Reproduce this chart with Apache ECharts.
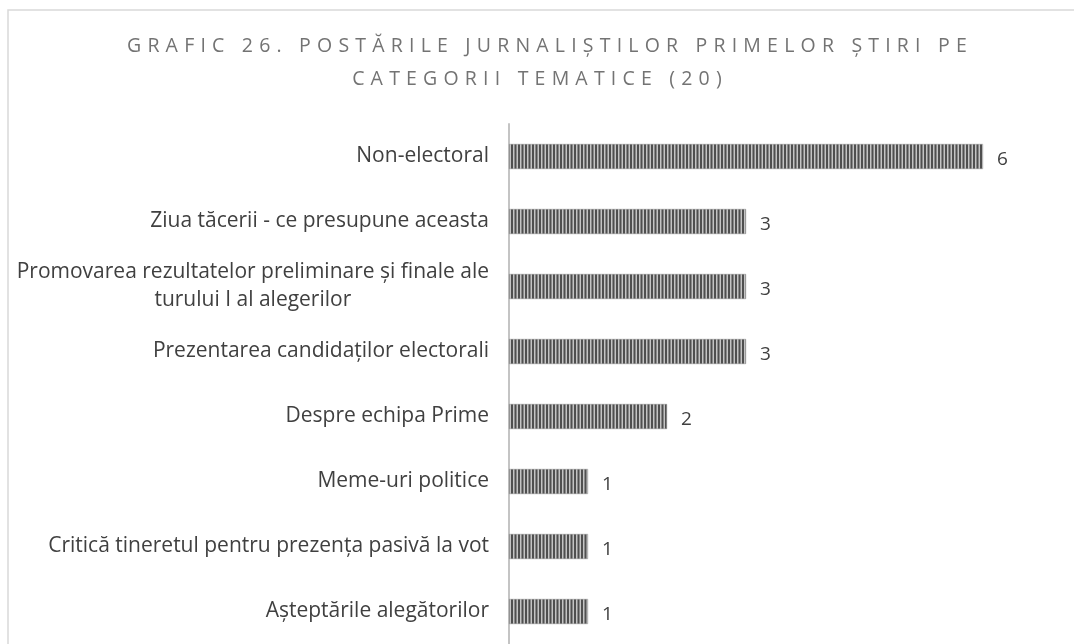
<!DOCTYPE html>
<html>
<head>
<meta charset="utf-8">
<script src="https://cdn.jsdelivr.net/npm/echarts@6/dist/echarts.min.js"></script>
<style>
	html, body { margin: 0; padding: 0; background: #fff; }
	.wrap { position: relative; width: 1074px; height: 644px; overflow: hidden; }
	#main { width: 1074px; height: 644px; }
	.title {
		position: absolute; left: 0; top: 28px; width: 1074px;
		text-align: center; font-family: 'Open Sans', sans-serif; font-size: 19.5px;
		line-height: 33px; letter-spacing: 6.2px; color: #737373; pointer-events: none;
	}
	.title div { white-space: nowrap; }
	.title .l1 { padding-left: 26px; }
	.title .l2 { padding-left: 6px; }
</style>
</head>
<body>
<div class="wrap">
	<div id="main"></div>
	<div class="title">
		<div class="l1">GRAFIC 26. POSTĂRILE JURNALIȘTILOR PRIMELOR ȘTIRI PE</div>
		<div class="l2">CATEGORII TEMATICE (20)</div>
	</div>
</div>
<script>
	// categories, top to bottom
	var categories = [
		'Non-electoral',
		'Ziua tăcerii - ce presupune aceasta',
		'Promovarea rezultatelor preliminare și finale ale\nturului I al alegerilor',
		'Prezentarea candidaților electorali',
		'Despre echipa Prime',
		'Meme-uri politice',
		'Critică tineretul pentru prezența pasivă la vot',
		'Așteptările alegătorilor'
	];
	var postCounts = [6, 3, 3, 3, 2, 1, 1, 1];

	// striped fill for the bars
	function stripes() {
		var c = document.createElement('canvas'),
			ctx;
		c.width = 7;
		c.height = 10;
		ctx = c.getContext('2d');
		ctx.fillStyle = '#c4c4c4';
		ctx.fillRect(0, 0, 7, 10);
		ctx.fillStyle = '#4f4f4f';
		ctx.fillRect(0, 0, 2, 10);
		ctx.fillRect(3.5, 0, 2, 10);
		return c;
	}

	function chart() {
		var myChart = echarts.init(document.getElementById('main'));
		var font = 'Open Sans';
		var option = {
			animation: false,
			grid: { left: 509, right: 91, top: 124, bottom: -6, containLabel: false },
			graphic: [{
				type: 'rect',
				z: -1,
				shape: { x: 8, y: 10, width: 1100, height: 700 },
				style: { fill: 'none', stroke: '#d9d9d9', lineWidth: 1.5 }
			}],
			xAxis: { type: 'value', min: 0, max: 6, show: false },
			yAxis: {
				type: 'category',
				inverse: true,
				data: categories,
				axisLine: { lineStyle: { color: '#c4c4c4', width: 2 } },
				axisTick: { show: false },
				axisLabel: {
					margin: 20,
					fontFamily: font,
					fontSize: 21,
					color: '#404040',
					lineHeight: 28,
					formatter: function(v) {
						if (v.indexOf('\n') < 0) return v;
						return v.split('\n').map(function(s) { return '{c|' + s + '}'; }).join('\n');
					},
					rich: {
						c: { align: 'center', fontFamily: font, fontSize: 21, color: '#404040', lineHeight: 28 }
					}
				}
			},
			series: [{
				type: 'bar',
				data: postCounts,
				barWidth: 25,
				itemStyle: {
					color: { image: stripes(), repeat: 'repeat' },
					borderColor: '#8a8a8a',
					borderWidth: 0.5
				},
				label: {
					show: true,
					position: 'right',
					distance: 14,
					offset: [0, 3],
					fontFamily: font,
					fontSize: 19,
					color: '#404040'
				}
			}]
		};
		myChart.setOption(option);
	}
	chart();
</script>
</body>
</html>
